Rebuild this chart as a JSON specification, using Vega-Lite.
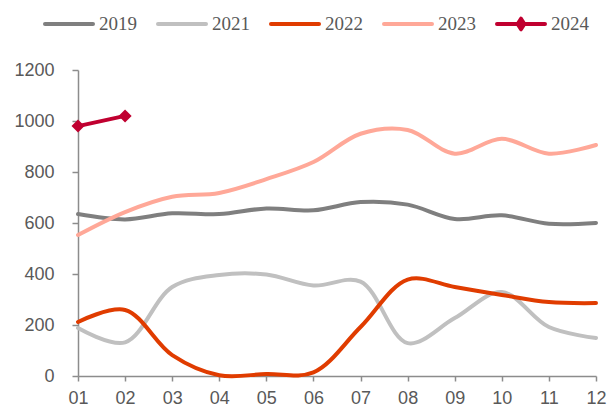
{
  "$schema": "https://vega.github.io/schema/vega-lite/v6.json",
  "width": 518,
  "height": 306,
  "autosize": {"type": "none"},
  "padding": {"left": 78, "top": 70, "right": 13, "bottom": 31},
  "background": "white",
  "config": {"view": {"stroke": null}},
  "data": {"values": [
    {"m":"01","year":"2019","v":635},{"m":"02","year":"2019","v":614},{"m":"03","year":"2019","v":638},{"m":"04","year":"2019","v":635},{"m":"05","year":"2019","v":657},{"m":"06","year":"2019","v":650},{"m":"07","year":"2019","v":682},{"m":"08","year":"2019","v":672},{"m":"09","year":"2019","v":616},{"m":"10","year":"2019","v":630},{"m":"11","year":"2019","v":597},{"m":"12","year":"2019","v":600},
    {"m":"01","year":"2021","v":188},{"m":"02","year":"2021","v":132},{"m":"03","year":"2021","v":349},{"m":"04","year":"2021","v":396},{"m":"05","year":"2021","v":398},{"m":"06","year":"2021","v":355},{"m":"07","year":"2021","v":370},{"m":"08","year":"2021","v":129},{"m":"09","year":"2021","v":227},{"m":"10","year":"2021","v":329},{"m":"11","year":"2021","v":192},{"m":"12","year":"2021","v":149},
    {"m":"01","year":"2022","v":212},{"m":"02","year":"2022","v":259},{"m":"03","year":"2022","v":82},{"m":"04","year":"2022","v":3},{"m":"05","year":"2022","v":8},{"m":"06","year":"2022","v":14},{"m":"07","year":"2022","v":192},{"m":"08","year":"2022","v":378},{"m":"09","year":"2022","v":349},{"m":"10","year":"2022","v":318},{"m":"11","year":"2022","v":290},{"m":"12","year":"2022","v":286},
    {"m":"01","year":"2023","v":553},{"m":"02","year":"2023","v":643},{"m":"03","year":"2023","v":703},{"m":"04","year":"2023","v":718},{"m":"05","year":"2023","v":772},{"m":"06","year":"2023","v":839},{"m":"07","year":"2023","v":950},{"m":"08","year":"2023","v":965},{"m":"09","year":"2023","v":872},{"m":"10","year":"2023","v":930},{"m":"11","year":"2023","v":872},{"m":"12","year":"2023","v":906},
    {"m":"01","year":"2024","v":980},{"m":"02","year":"2024","v":1020}
  ]},
  "encoding": {
    "x": {"field": "m", "type": "ordinal", "scale": {"type": "point", "padding": 0},
      "axis": {"title": null, "labelAngle": 0, "labelFont": "Liberation Sans", "labelFontSize": 18, "labelColor": "#595959", "labelPadding": 8, "tickSize": 5, "tickColor": "#8c8c8c", "domainColor": "#8c8c8c", "domainWidth": 1.5, "tickWidth": 1.5, "grid": false}},
    "y": {"field": "v", "type": "quantitative", "scale": {"domain": [0, 1200], "nice": false, "zero": true},
      "axis": {"title": null, "format": "d", "values": [0,200,400,600,800,1000,1200], "labelFont": "Liberation Sans", "labelFontSize": 18, "labelColor": "#595959", "labelPadding": 18, "tickSize": 6, "tickColor": "#8c8c8c", "domainColor": "#8c8c8c", "domainWidth": 1.5, "tickWidth": 1.5, "grid": false}}
  },
  "layer": [
    {
      "mark": {"type": "line", "interpolate": "catmull-rom", "strokeWidth": 4, "strokeCap": "round"},
      "encoding": {
        "color": {"field": "year", "type": "nominal",
          "scale": {"domain": ["2019","2021","2022","2023","2024"], "range": ["#7f7f7f","#c0c0c0","#e03c00","#ffa898","#c00030"]},
          "legend": {
            "orient": "none", "legendX": -35, "legendY": -72, "direction": "horizontal", "title": null,
            "symbolType": "M-1,0L1,0", "symbolSize": 2304, "symbolStrokeWidth": 4,
            "labelFont": "Liberation Serif", "labelFontSize": 19, "labelColor": "#595959", "labelOffset": 4,
            "columnPadding": 19,
            "encode": {"symbols": {"update": {
              "shape": {"signal": "datum.value == '2024' ? 'M-1,0L1,0M-0.14,0L0,-0.22L0.14,0L0,0.22Z' : 'M-1,0L1,0'"},
              "fill": {"signal": "datum.value == '2024' ? '#c00030' : 'transparent'"},
              "strokeCap": {"value": "round"},
              "strokeJoin": {"value": "round"}
            }}}
          }}
      }
    },
    {
      "transform": [{"filter": "datum.year == '2024'"}],
      "mark": {"type": "point", "shape": "diamond", "filled": true, "size": 170, "color": "#c00030", "opacity": 1}
    }
  ]
}
